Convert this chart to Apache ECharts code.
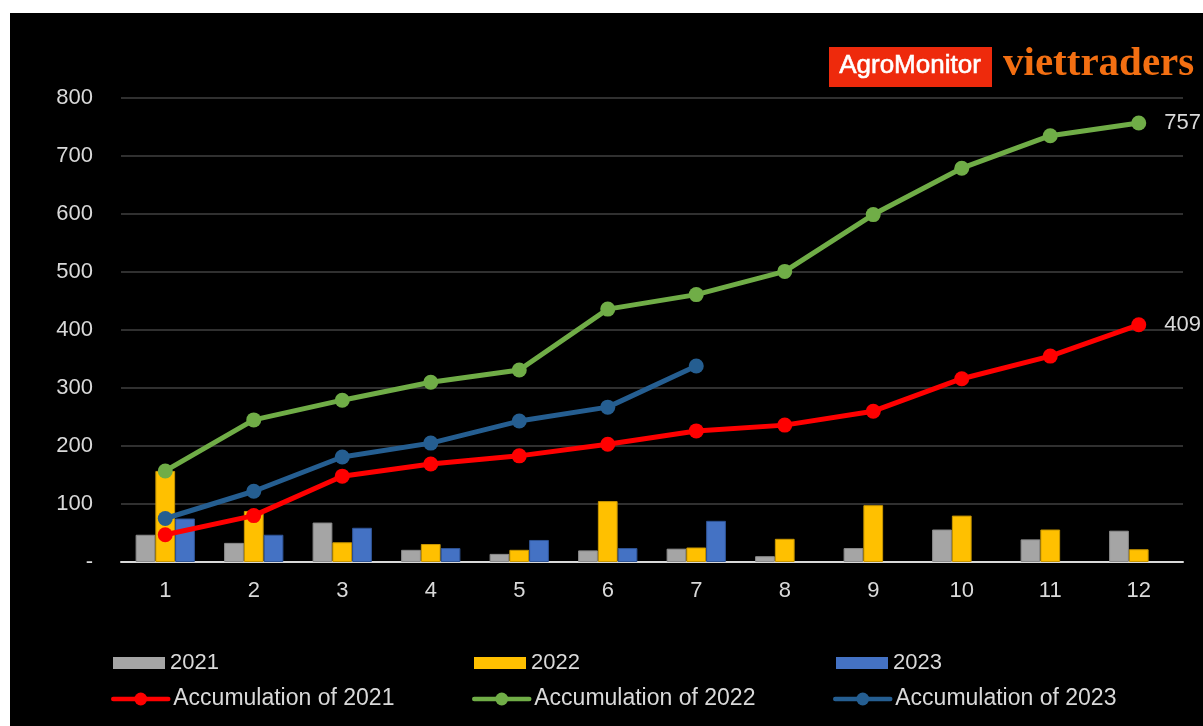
<!DOCTYPE html>
<html>
<head>
<meta charset="utf-8">
<script src="https://cdn.jsdelivr.net/npm/echarts@6/dist/echarts.min.js"></script>
<style>
  html, body { margin: 0; padding: 0; background: #ffffff; width: 1203px; height: 726px; overflow: hidden; }
  #chart { position: absolute; left: 10px; top: 13px; width: 1193px; height: 713px; background: #000000; }
</style>
</head>
<body>
<div id="chart"></div>
<script>
// Months of the year
const months = ['1', '2', '3', '4', '5', '6', '7', '8', '9', '10', '11', '12'];

// Monthly volumes per year
const vol2021 = [47, 33, 68, 21, 14, 20, 23, 10, 24, 56, 39, 54];
const vol2022 = [157, 88, 34, 31, 21, 105, 25, 40, 98, 80, 56, 22];
const vol2023 = [75, 47, 59, 24, 38, 24, 71];

// Running totals per year
const acc2021 = [47, 80, 148, 169, 183, 203, 226, 236, 260, 316, 355, 409];
const acc2022 = [157, 245, 279, 310, 331, 436, 461, 501, 599, 679, 735, 757];
const acc2023 = [75, 122, 181, 205, 243, 267, 338];

// Value axis ticks
const yMin = 0, yMax = 800, yStep = 100;

const FONT = '"Liberation Sans", Arial, sans-serif';
const TEXT = '#d9d9d9';

// Put the final running total next to the last point
function withEndLabel(arr) {
  return arr.map((v, i) => i === arr.length - 1
    ? { value: v, label: { show: true, position: 'right', distance: 18, color: TEXT, fontSize: 22, fontFamily: FONT } }
    : v);
}

function barSeries(name, data, color, border) {
  return {
    name, type: 'bar', data,
    barGap: '0%', barCategoryGap: '33%',
    itemStyle: { color, borderColor: border, borderWidth: 1 },
    emphasis: { disabled: true }
  };
}

function lineSeries(name, data, color, endLabel) {
  return {
    name, type: 'line', data: endLabel ? withEndLabel(data) : data,
    symbol: 'circle', symbolSize: 15,
    lineStyle: { color, width: 5 },
    itemStyle: { color },
    emphasis: { disabled: true }
  };
}

function legendAt(name, left, centerY, isLine) {
  const legend = {
    data: [name], left, top: centerY - 12, padding: 0,
    itemWidth: isLine ? 55 : 52, itemHeight: isLine ? 16 : 12,
    selectedMode: false,
    itemStyle: { borderWidth: 0 },
    textStyle: { color: TEXT, fontSize: isLine ? 23 : 22, fontFamily: FONT, lineHeight: 24 }
  };
  if (isLine) {
    legend.lineStyle = { width: 4.5, cap: 'round' };
  } else {
    legend.icon = 'rect';
  }
  return legend;
}

const chart = echarts.init(document.getElementById('chart'), null, { renderer: 'canvas' });

chart.setOption({
  backgroundColor: '#000000',
  animation: false,
  grid: { left: 111, right: 20, top: 85, bottom: 164, containLabel: false },
  xAxis: {
    type: 'category', data: months, boundaryGap: true,
    axisLine: { lineStyle: { color: '#d9d9d9', width: 2 } },
    axisTick: { show: false },
    axisLabel: { color: TEXT, fontSize: 22, fontFamily: FONT, margin: 18 }
  },
  yAxis: {
    type: 'value', min: yMin, max: yMax, interval: yStep,
    axisLine: { show: false }, axisTick: { show: false },
    splitLine: { lineStyle: { color: '#404040', width: 1.5 } },
    axisLabel: {
      color: TEXT, fontSize: 22, fontFamily: FONT, margin: 28,
      formatter: v => v === 0 ? '-' : String(v)
    }
  },
  legend: [
    legendAt('2021', 103, 650, false),
    legendAt('2022', 464, 650, false),
    legendAt('2023', 826, 650, false),
    legendAt('Accumulation of 2021', 101, 686, true),
    legendAt('Accumulation of 2022', 462, 686, true),
    legendAt('Accumulation of 2023', 823, 686, true)
  ],
  graphic: [
    { type: 'rect', left: 819, top: 34, shape: { width: 163, height: 40 }, style: { fill: '#ee2a0c' } },
    { type: 'text', x: 900, y: 53, style: { text: 'AgroMonitor', fill: '#ffffff', stroke: '#ffffff', lineWidth: 0.6, font: '26px ' + FONT, align: 'center', verticalAlign: 'middle' } },
    { type: 'text', x: 993, y: 51, style: { text: 'viettraders', fill: '#f36f12', font: 'bold 41px "Liberation Serif", "Times New Roman", serif', align: 'left', verticalAlign: 'middle' } }
  ],
  series: [
    barSeries('2021', vol2021, '#a5a5a5', '#8a8a8a'),
    barSeries('2022', vol2022, '#ffc000', '#c89600'),
    barSeries('2023', vol2023, '#4472c4', '#2f5597'),
    lineSeries('Accumulation of 2021', acc2021, '#ff0000', true),
    lineSeries('Accumulation of 2022', acc2022, '#70ad47', true),
    lineSeries('Accumulation of 2023', acc2023, '#255e91', false)
  ]
});
</script>
</body>
</html>
